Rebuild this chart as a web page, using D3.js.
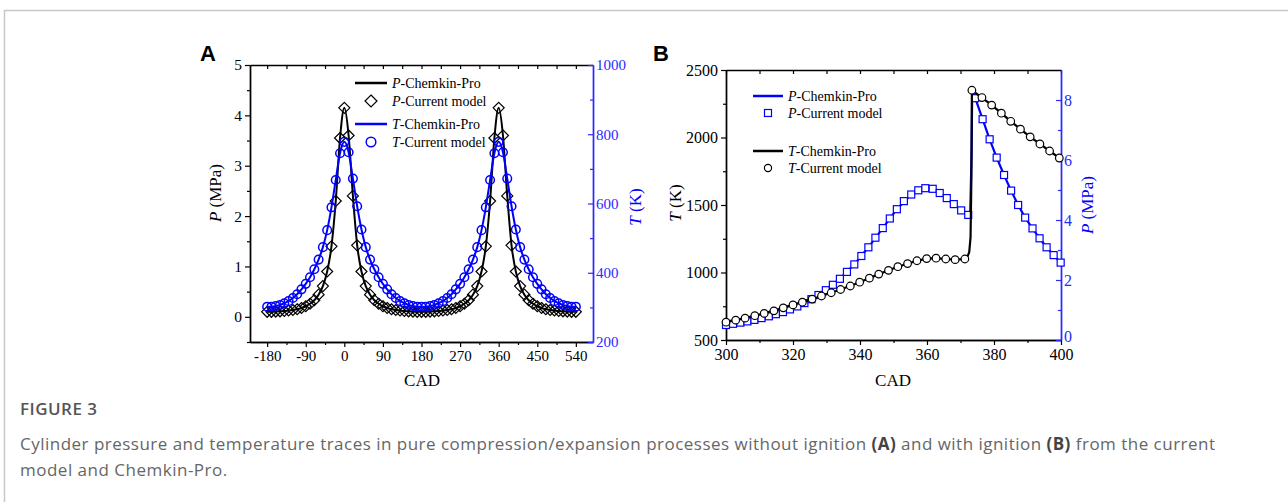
<!DOCTYPE html>
<html><head><meta charset="utf-8">
<script src="https://cdn.jsdelivr.net/npm/d3@7"></script>
<style>body{margin:0;background:#fff}</style>
</head><body>
<script>
// ---------- Panel A data (CAD, P in MPa, T in K) ----------
const cadA = [-180,-170,-160,-150,-140,-130,-120,-110,-100,-90,-80,-70,-60,-50,-40,-30,-20,-10,0,
  10,20,30,40,50,60,70,80,90,100,110,120,130,140,150,160,170,180,
  190,200,210,220,230,240,250,260,270,280,290,300,310,320,330,340,350,360,
  370,380,390,400,410,420,430,440,450,460,470,480,490,500,510,520,530,540];
const pA = [0.10,0.10,0.105,0.11,0.115,0.125,0.135,0.15,0.175,0.21,0.26,0.33,0.44,0.61,0.90,1.40,2.30,3.55,4.15,
  3.60,2.40,1.42,0.90,0.61,0.44,0.33,0.26,0.21,0.175,0.15,0.135,0.125,0.115,0.11,0.105,0.10,0.10,
  0.10,0.105,0.11,0.115,0.125,0.135,0.15,0.175,0.21,0.26,0.33,0.44,0.61,0.90,1.40,2.30,3.55,4.15,
  3.60,2.40,1.42,0.90,0.61,0.44,0.33,0.26,0.21,0.175,0.15,0.135,0.125,0.115,0.11,0.105,0.10,0.10];
const tA = [302,302,304,307,312,318,327,338,352,368,387,410,438,474,523,589,668,745,778,
  748,672,592,525,474,438,410,387,368,352,338,327,318,312,307,304,302,302,
  302,304,307,312,318,327,338,352,368,387,410,438,474,523,589,668,745,778,
  748,672,592,525,474,438,410,387,368,352,338,327,318,312,307,304,302,302];

// ---------- Panel B data ----------
const cadBT = [300.0,302.9,305.7,308.6,311.4,314.3,317.1,320.0,322.8,325.7,328.5,331.4,334.2,337.1,339.9,342.8,345.6,348.5,351.3,354.2,357.0,359.9,362.7,365.6,368.4,371.3,
  373.4,376.4,379.3,382.2,385.0,387.9,390.8,393.7,396.6,399.5];
const tB = [632,647,662,680,697,716,738,760,780,803,826,850,874,900,928,958,988,1016,1043,1066,1087,1103,1106,1100,1095,1100,
  2350,2296,2240,2180,2120,2062,2005,1952,1900,1848];
const cadBP = [300.0,302.1,304.3,306.4,308.5,310.6,312.8,314.9,317.0,319.1,321.3,323.4,325.5,327.6,329.8,331.9,334.0,336.1,338.3,340.4,342.5,344.6,346.8,348.9,351.0,353.1,355.3,357.4,359.5,361.7,363.8,365.9,368.0,370.2,372.3,
  374.4,376.6,378.7,380.8,383.0,385.1,387.2,389.3,391.5,393.6,395.7,397.8,399.9];
const pB = [0.50,0.54,0.58,0.62,0.67,0.73,0.79,0.86,0.93,1.02,1.12,1.23,1.36,1.50,1.66,1.84,2.04,2.27,2.52,2.80,3.09,3.41,3.73,4.05,4.36,4.63,4.85,4.99,5.06,5.04,4.90,4.73,4.53,4.32,4.17,
  8.06,7.36,6.69,6.08,5.50,4.98,4.50,4.08,3.72,3.39,3.09,2.83,2.58];
// Chemkin-Pro reference curves (panel B)
const chemCadT = [300.0,305.7,311.4,317.1,322.8,328.5,334.2,339.9,345.6,351.3,357.0,359.9,362.7,365.6,368.4,371.3,372.0,372.6,373.0,373.25,373.4,376.4,379.3,382.2,385.0,387.9,390.8,393.7,396.6,400.0];
const chemT = [632,662,697,738,780,826,874,928,988,1043,1087,1103,1106,1100,1095,1100,1112,1150,1260,1700,2350,2296,2240,2180,2120,2062,2005,1952,1900,1840];
const chemCadP = [300.0,304.3,308.5,312.8,317.0,321.3,325.5,329.8,334.0,338.3,342.5,346.8,351.0,355.3,359.5,361.7,363.8,365.9,368.0,370.2,372.3,372.9,373.3,373.5,374.4,376.6,378.7,380.8,383.0,385.1,387.2,389.3,391.5,393.6,395.7,397.8,400.0];
const chemP = [0.50,0.58,0.67,0.79,0.93,1.12,1.36,1.66,2.04,2.52,3.09,3.73,4.36,4.85,5.06,5.04,4.90,4.73,4.53,4.32,4.17,4.25,6.2,8.36,8.06,7.36,6.69,6.08,5.50,4.98,4.50,4.08,3.72,3.39,3.09,2.83,2.56];

// ---------- Axis ticks ----------
const xTicksA = [-180,-90,0,90,180,270,360,450,540];
const xMinorA = [-135,-45,45,135,225,315,405,495];
const xTopA = [-180,-135,-90,-45,0,45,90,135,180,225,270,315,360,405,450,495,540];
const pTicksA = [0,1,2,3,4,5];
const pMinorA = [-0.5,0.5,1.5,2.5,3.5,4.5];
const tTicksA = [200,400,600,800,1000];
const tMinorA = [300,500,700,900];
const xTicksB = [300,320,340,360,380,400];
const xMinorB = [310,330,350,370,390];
const tTicksB = [500,1000,1500,2000,2500];
const tMinorB = [750,1250,1750,2250];
const pTicksB = [0,2,4,6,8];
const pMinorB = [1,3,5,7];

const BLUE = "#0000ff", AXBLUE = "#2a2aff";
const SERIF = "'Liberation Serif','Times New Roman',serif";

const svg = d3.select("body").append("svg").attr("width",1288).attr("height",502);
svg.append("rect").attr("width",1288).attr("height",502).attr("fill","#fff");
svg.append("path").attr("d","M4.5,502V10.5H1288").attr("fill","none").attr("stroke","#c8c8c8").attr("stroke-width",1.5);

const plain = d => String(d);
const none = () => "";
function ax(gen, vals, size, fmt, color, fs, tr, pad) {
  const a = gen.tickValues(vals).tickSize(size).tickSizeOuter(0).tickPadding(pad == null ? 3 : pad).tickFormat(fmt);
  const g = svg.append("g").attr("transform", tr).call(a);
  g.attr("font-size", null).attr("font-family", null);
  g.select("path.domain").attr("stroke", color).attr("stroke-width", 1.4);
  g.selectAll(".tick line").attr("stroke", color).attr("stroke-width", 1.2);
  g.selectAll(".tick text").attr("fill", color).style("font-family", SERIF).style("font-size", fs + "px");
  return g;
}

// ================= PANEL A =================
const xA = d3.scaleLinear().domain([-220,580]).range([250,593]);
const yPA = d3.scaleLinear().domain([-0.5,5]).range([342,65]);
const yTA = d3.scaleLinear().domain([200,1000]).range([342,65]);

ax(d3.axisBottom(xA), xTicksA, 5, plain, "#000", 15, "translate(0,342)");
ax(d3.axisBottom(xA), xMinorA, 3, none, "#000", 15, "translate(0,342)");
ax(d3.axisTop(xA), xTopA, -4, none, "#000", 15, "translate(0,65)");
ax(d3.axisLeft(yPA), pTicksA, 5, plain, "#000", 15.5, "translate(250,0)");
ax(d3.axisLeft(yPA), pMinorA, 3, none, "#000", 15, "translate(250,0)");
ax(d3.axisRight(yTA), tTicksA, -5, plain, AXBLUE, 15, "translate(593,0)");
ax(d3.axisRight(yTA), tMinorA, -3, none, AXBLUE, 15, "translate(593,0)");

const dA = cadA.map((c,i)=>({c, p:pA[i], t:tA[i]}));
const gA = svg.append("g");
gA.append("path").datum(dA).attr("fill","none").attr("stroke","#000").attr("stroke-width",2)
  .attr("d", d3.line().x(d=>xA(d.c)).y(d=>yPA(d.p)).curve(d3.curveMonotoneX));
gA.selectAll("path.dia").data(dA).join("path").attr("class","dia")
  .attr("transform", d=>`translate(${xA(d.c)},${yPA(d.p)})`)
  .attr("d","M0,-5.5L5.5,0L0,5.5L-5.5,0Z").attr("fill","none").attr("stroke","#000").attr("stroke-width",1.2);
gA.append("path").datum(dA).attr("fill","none").attr("stroke",BLUE).attr("stroke-width",2)
  .attr("d", d3.line().x(d=>xA(d.c)).y(d=>yTA(d.t)).curve(d3.curveMonotoneX));
gA.selectAll("circle.tc").data(dA).join("circle").attr("class","tc")
  .attr("cx", d=>xA(d.c)).attr("cy", d=>yTA(d.t)).attr("r",4.3)
  .attr("fill","none").attr("stroke",BLUE).attr("stroke-width",1.5);

// axis titles (x,y = visual centre)
function title(x, y, rot, color, fs, parts) {
  const t = svg.append("text").attr("transform", `translate(${x},${y}) rotate(${rot})`)
    .attr("text-anchor","middle").attr("dy","0.35em").attr("fill", color)
    .style("font-family", SERIF).style("font-size", fs+"px");
  parts.forEach(p => t.append("tspan").text(p[0]).style("font-style", p[1] ? "italic" : "normal"));
  return t;
}
title(215, 193, -90, "#000", 17, [["P",1],[" (MPa)",0]]);
title(635, 207, -90, BLUE, 17, [["T",1],[" (K)",0]]);
title(422, 380, 0, "#000", 17, [["CAD",0]]);

// legend
function legText(x, y, fs, sym, rest) {
  const t = svg.append("text").attr("x", x).attr("y", y).attr("dy","0.35em")
    .style("font-family", SERIF).style("font-size", fs+"px").attr("fill","#000");
  t.append("tspan").text(sym).style("font-style","italic");
  t.append("tspan").text(rest);
}
svg.append("line").attr("x1",355).attr("x2",387).attr("y1",83).attr("y2",83).attr("stroke","#000").attr("stroke-width",2.5);
legText(392, 83, 14, "P", "-Chemkin-Pro");
svg.append("path").attr("transform","translate(371,101)").attr("d","M0,-6L6,0L0,6L-6,0Z").attr("fill","none").attr("stroke","#000").attr("stroke-width",1.2);
legText(392, 101, 14, "P", "-Current model");
svg.append("line").attr("x1",355).attr("x2",387).attr("y1",124).attr("y2",124).attr("stroke",BLUE).attr("stroke-width",2.5);
legText(392, 124, 14, "T", "-Chemkin-Pro");
svg.append("circle").attr("cx",371).attr("cy",142).attr("r",4.8).attr("fill","none").attr("stroke",BLUE).attr("stroke-width",1.5);
legText(392, 142, 14, "T", "-Current model");

svg.append("text").attr("x",200).attr("y",61).text("A").style("font-family","'Liberation Sans',Arial,sans-serif").style("font-weight","bold").style("font-size","22px");

// ================= PANEL B =================
const xB = d3.scaleLinear().domain([300,400]).range([726,1061]);
const yTB = d3.scaleLinear().domain([500,2500]).range([340,70]);
const yPB = d3.scaleLinear().domain([0,9]).range([340,70]);

ax(d3.axisBottom(xB), xTicksB, 5, plain, "#000", 16, "translate(0,340)", 4);
ax(d3.axisBottom(xB), xMinorB, 3, none, "#000", 16, "translate(0,340)");
ax(d3.axisTop(xB), xTicksB.concat(xMinorB), -4, none, "#000", 16, "translate(0,70)");
ax(d3.axisLeft(yTB), tTicksB, 5, plain, "#000", 16, "translate(726,0)");
ax(d3.axisLeft(yTB), tMinorB, 3, none, "#000", 16, "translate(726,0)");
const rB = ax(d3.axisRight(yPB), pTicksB, -5, plain, AXBLUE, 16, "translate(1061,0)");
rB.selectAll(".tick text").filter(d => d === 0).attr("dy","0.1em");
ax(d3.axisRight(yPB), pMinorB, -3, none, AXBLUE, 16, "translate(1061,0)");

const gB = svg.append("g");
const lineB = (xs, ys, ysc) => d3.line().x((d,i)=>xB(xs[i])).y((d,i)=>ysc(ys[i]))(xs);
gB.append("path").attr("d", lineB(chemCadP, chemP, yPB)).attr("fill","none").attr("stroke",BLUE).attr("stroke-width",2.2);
gB.selectAll("rect.sq").data(cadBP).join("rect").attr("class","sq")
  .attr("x",(d)=>xB(d)-3.5).attr("y",(d,i)=>yPB(pB[i])-3.5).attr("width",7).attr("height",7)
  .attr("fill","#fff").attr("stroke",BLUE).attr("stroke-width",1.2);
gB.append("path").attr("d", lineB(chemCadT, chemT, yTB)).attr("fill","none").attr("stroke","#000").attr("stroke-width",2.2);
gB.selectAll("circle.tc").data(cadBT).join("circle").attr("class","tc")
  .attr("cx",d=>xB(d)).attr("cy",(d,i)=>yTB(tB[i])).attr("r",3.8)
  .attr("fill","#fff").attr("stroke","#000").attr("stroke-width",1.2);

title(675, 203, -90, "#000", 17, [["T",1],[" (K)",0]]);
title(1087, 205, -90, BLUE, 17, [["P",1],[" (MPa)",0]]);
title(893, 380, 0, "#000", 17, [["CAD",0]]);

svg.append("line").attr("x1",753).attr("x2",783).attr("y1",96).attr("y2",96).attr("stroke",BLUE).attr("stroke-width",2.5);
legText(788, 96, 14, "P", "-Chemkin-Pro");
svg.append("rect").attr("x",764.5).attr("y",109.5).attr("width",7).attr("height",7).attr("fill","#fff").attr("stroke",BLUE).attr("stroke-width",1.2);
legText(788, 113, 14, "P", "-Current model");
svg.append("line").attr("x1",753).attr("x2",783).attr("y1",151).attr("y2",151).attr("stroke","#000").attr("stroke-width",2.5);
legText(788, 151, 14, "T", "-Chemkin-Pro");
svg.append("circle").attr("cx",768).attr("cy",168).attr("r",3.6).attr("fill","#fff").attr("stroke","#000").attr("stroke-width",1.2);
legText(788, 168, 14, "T", "-Current model");

svg.append("text").attr("x",653).attr("y",61).text("B").style("font-family","'Liberation Sans',Arial,sans-serif").style("font-weight","bold").style("font-size","22px");

// ================= Caption =================
const SANS = "'Open Sans','Noto Sans',sans-serif";
svg.append("text").attr("x",20).attr("y",415).text("FIGURE 3").attr("fill","#555")
  .attr("textLength",77).attr("lengthAdjust","spacing")
  .style("font-family",SANS).style("font-size","17px").style("font-weight","600");
const c1 = svg.append("text").attr("x",20).attr("y",450).attr("fill","#666")
  .attr("textLength",1195).attr("lengthAdjust","spacing")
  .style("font-family",SANS).style("font-size","17px");
c1.append("tspan").text("Cylinder pressure and temperature traces in pure compression/expansion processes without ignition ");
c1.append("tspan").text("(A)").style("font-weight","700").attr("fill","#444");
c1.append("tspan").text(" and with ignition ");
c1.append("tspan").text("(B)").style("font-weight","700").attr("fill","#444");
c1.append("tspan").text(" from the current");
svg.append("text").attr("x",20).attr("y",476).attr("fill","#666")
  .style("font-family",SANS).style("font-size","17px").style("letter-spacing","0.5px")
  .text("model and Chemkin-Pro.");
</script>
</body></html>
